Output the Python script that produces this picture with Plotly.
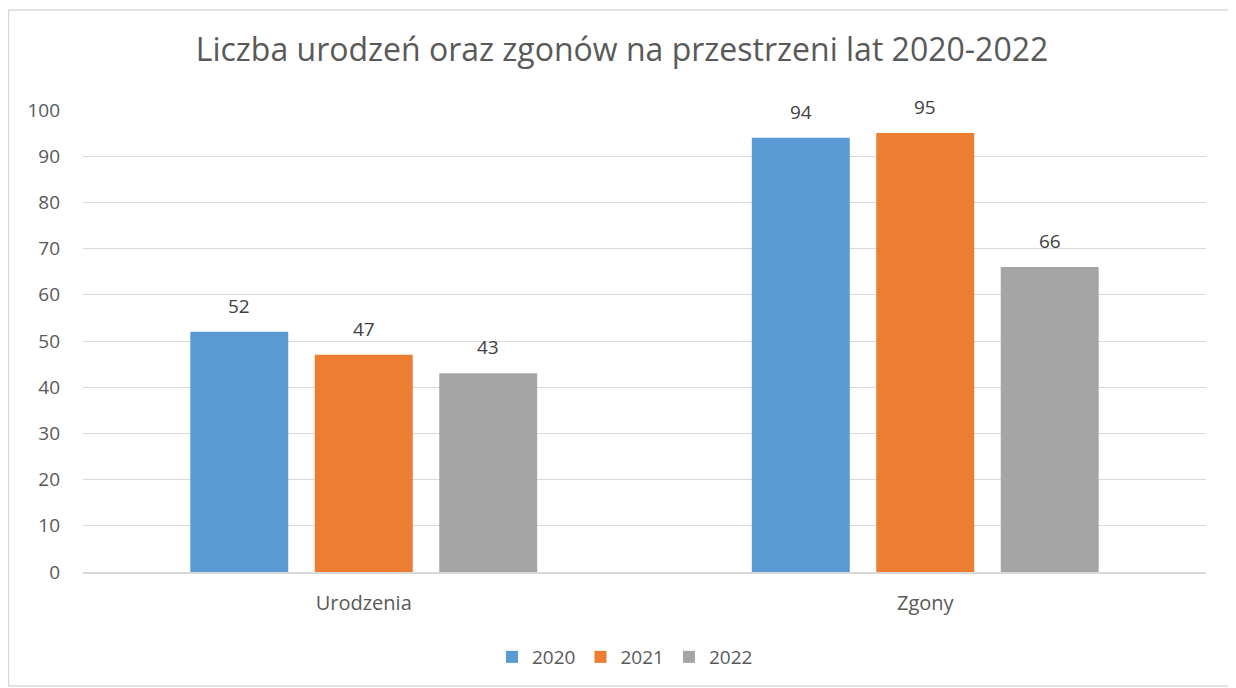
import plotly.graph_objects as go

categories = ["Urodzenia", "Zgony"]
years = ["2020", "2021", "2022"]
values_2020 = [52, 94]
values_2021 = [47, 95]
values_2022 = [43, 66]
colors = ["#5B9BD5", "#ED7D31", "#A5A5A5"]

series = [values_2020, values_2021, values_2022]
font_family = "Open Sans, sans-serif"

OFF = 8  # page body margin
W, H = 1228, 680
ml, mr, mt = 83 - OFF, 1236 - 1206, 110 - OFF
plot_bottom = 572 - OFF
mb = H - plot_bottom
pw, ph = W - ml - mr, H - mt - mb

def px_x(p):
    return (p - OFF - ml) / pw

def px_y(p):
    return (plot_bottom - (p - OFF)) / ph

bargap, bargroupgap = 0.335, 0.213

fig = go.Figure()
for name, vals, col in zip(years, series, colors):
    fig.add_trace(go.Bar(
        x=categories, y=vals, name=name,
        marker=dict(color=col, line=dict(width=0)),
    ))

# data labels above bars
n = len(series)
slot = (1 - bargap) / n
annotations = []
for i, vals in enumerate(series):
    offset = (i - (n - 1) / 2) * slot
    for j, v in enumerate(vals):
        annotations.append(dict(
            x=j + offset, y=v, xref="x", yref="y", text=str(v),
            showarrow=False, yanchor="middle", yshift=26,
            font=dict(size=19, color="#404040", family=font_family),
        ))

fig.update_layout(
    width=W, height=H,
    margin=dict(l=ml, r=mr, t=mt, b=mb, autoexpand=False),
    paper_bgcolor="white", plot_bgcolor="white",
    barmode="group", bargap=bargap, bargroupgap=bargroupgap,
    title=dict(text="Liczba urodzeń oraz zgonów na przestrzeni lat 2020-2022",
               x=0.5, xanchor="center", y=1 - (50 - OFF) / H, yanchor="middle",
               font=dict(size=32, color="#595959", family=font_family)),
    font=dict(family=font_family, color="#595959", size=19),
    legend=dict(orientation="h", x=px_x(625), xanchor="center",
                y=px_y(657), yanchor="middle",
                font=dict(size=19, color="#595959"),
                itemwidth=30, traceorder="normal"),
    xaxis=dict(showgrid=False, ticks="", showline=True, linecolor="#D9D9D9",
               linewidth=1.5, ticklabelstandoff=12,
               tickfont=dict(size=20, color="#595959")),
    yaxis=dict(range=[0, 100], dtick=10, showgrid=True, gridcolor="#D9D9D9",
               gridwidth=1, zeroline=False, showline=False, ticks="",
               ticklabelstandoff=22,
               tickfont=dict(size=19, color="#595959")),
    annotations=annotations,
    shapes=[dict(type="rect", xref="paper", yref="paper",
                 x0=px_x(8.5), x1=px_x(1232), y0=px_y(686), y1=px_y(10),
                 line=dict(color="#D9D9D9", width=1.5), fillcolor="rgba(0,0,0,0)",
                 layer="below")],
)

fig.write_html("out.html")
